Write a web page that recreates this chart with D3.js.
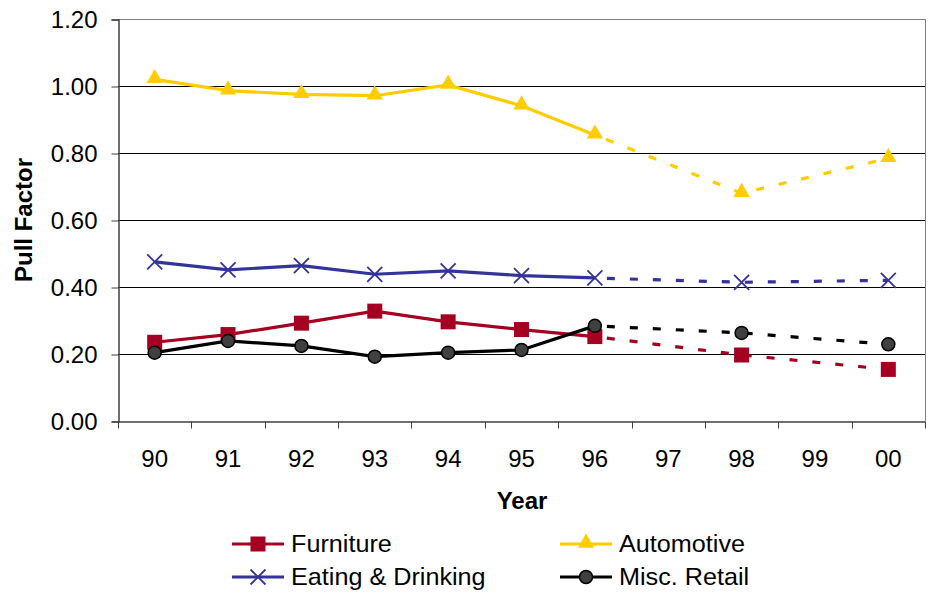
<!DOCTYPE html>
<html>
<head>
<meta charset="utf-8">
<script src="https://cdn.jsdelivr.net/npm/d3@7"></script>
<style>
  body { margin: 0; background: #fff; }
  text { font-family: "Liberation Sans", Arial, sans-serif; }
</style>
</head>
<body>
<svg id="chart" width="929" height="593"></svg>
<script>
// years on the category axis
var years = ["90","91","92","93","94","95","96","97","98","99","00"];
var yTicks = [0, 0.2, 0.4, 0.6, 0.8, 1.0, 1.2];

// pull factor values, null where no data
var furniture  = [0.235, 0.258, 0.292, 0.328, 0.296, 0.273, 0.252, null, 0.197, null, 0.154];
var automotive = [1.020, 0.986, 0.975, 0.971, 1.003, 0.941, 0.854, null, 0.680, null, 0.784];
var eating     = [0.475, 0.451, 0.464, 0.438, 0.448, 0.434, 0.427, null, 0.414, null, 0.420];
var misc       = [0.204, 0.239, 0.224, 0.192, 0.204, 0.212, 0.284, null, 0.263, null, 0.229];

var series = [
    {name: "Furniture", values: furniture, color: "#A50021", marker: "square"},
    {name: "Automotive", values: automotive, color: "#FFCC00", marker: "triangle"},
    {name: "Eating & Drinking", values: eating, color: "#333399", marker: "cross"},
    {name: "Misc. Retail", values: misc, color: "#000000", marker: "circle"}
];
// draw order: back to front as in the picture
var drawOrder = [1, 2, 0, 3];

var svg = d3.select("#chart");
var m = {left: 118, right: 4, top: 19, bottom: 172};
var W = 929, H = 593;
var FONT = "Liberation Sans, Arial, sans-serif";

var x = d3.scaleBand().domain(years).range([m.left, W - m.right]).paddingInner(0).paddingOuter(0);
var y = d3.scaleLinear().domain([0, 1.2]).range([H - m.bottom, m.top]);
var cx = function(i){ return x(years[i]) + x.bandwidth() / 2; };

// gridlines
svg.append("g").selectAll("line")
    .data(yTicks.filter(function(d){ return d > 0; }))
    .enter().append("line")
        .attr("x1", m.left).attr("x2", W - m.right)
        .attr("y1", function(d){ return Math.round(y(d)) + 0.5; })
        .attr("y2", function(d){ return Math.round(y(d)) + 0.5; })
        .attr("stroke", function(d){ return d == 1.2 ? "#808080" : "#000"; })
        .attr("stroke-width", 1);

// right border of plot area
svg.append("line")
    .attr("x1", W - m.right + 0.5).attr("x2", W - m.right + 0.5)
    .attr("y1", y(1.2)).attr("y2", y(0))
    .attr("stroke", "#808080").attr("stroke-width", 1);

// y axis
var yAxis = svg.append("g")
    .attr("transform", "translate(" + (m.left + 0.5) + ",0.5)")
    .call(d3.axisLeft(y).tickValues(yTicks).tickFormat(d3.format(".2f")).tickSize(7).tickPadding(14));
yAxis.select(".domain").attr("stroke", "#404040").attr("stroke-width", 1.5);
yAxis.selectAll(".tick line").attr("stroke", "#404040");
yAxis.selectAll(".tick text").attr("font-size", 24).attr("fill", "#000").attr("font-family", FONT);

// x axis: labels centred, ticks on the band edges
var xAxis = svg.append("g")
    .attr("transform", "translate(0," + (y(0) + 0.5) + ")")
    .call(d3.axisBottom(x).tickSize(0));
xAxis.select(".domain").attr("stroke", "#404040").attr("stroke-width", 1.5);
xAxis.selectAll(".tick text").attr("font-size", 24).attr("fill", "#000").attr("font-family", FONT)
    .attr("y", 45.5).attr("dy", null);
xAxis.selectAll(".edge").data(years.concat(["end"])).enter().append("line")
    .attr("class", "edge")
    .attr("x1", function(d, i){ return Math.round(m.left + i * x.bandwidth()) + 0.5; })
    .attr("x2", function(d, i){ return Math.round(m.left + i * x.bandwidth()) + 0.5; })
    .attr("y1", 0).attr("y2", 7)
    .attr("stroke", "#404040");

// axis titles
svg.append("text")
    .attr("x", 522).attr("y", 509)
    .attr("text-anchor", "middle").attr("font-size", 24).attr("font-weight", "bold")
    .text("Year");
svg.append("text")
    .attr("transform", "translate(32," + ((y(0) + y(1.2)) / 2) + ") rotate(-90)")
    .attr("text-anchor", "middle").attr("font-size", 24).attr("font-weight", "bold")
    .text("Pull Factor");

function drawMarker(g, type, color, px, py){
    if( type == "square" ){
        g.append("rect").attr("x", px - 7.5).attr("y", py - 7.5).attr("width", 15).attr("height", 15)
            .attr("fill", color);
    }
    else if( type == "triangle" ){
        g.append("path").attr("d", d3.symbol().type(d3.symbolTriangle).size(115)())
            .attr("transform", "translate(" + px + "," + (py - 1) + ")")
            .attr("fill", color);
    }
    else if( type == "cross" ){
        g.append("path")
            .attr("d", "M" + (px - 7.5) + "," + (py - 7.5) + "L" + (px + 7.5) + "," + (py + 7.5) +
                       "M" + (px - 7.5) + "," + (py + 7.5) + "L" + (px + 7.5) + "," + (py - 7.5))
            .attr("stroke", color).attr("stroke-width", 1.8).attr("fill", "none");
    }
    else{
        g.append("circle").attr("cx", px).attr("cy", py).attr("r", 6.5)
            .attr("fill", "#404040").attr("stroke", "#000").attr("stroke-width", 1.5);
    }
}

var line = d3.line()
    .x(function(d){ return cx(d.i); })
    .y(function(d){ return y(d.v); });

drawOrder.forEach(function(k){
    var s = series[k];
    var pts = s.values.map(function(v, i){ return {i: i, v: v}; })
                      .filter(function(d){ return d.v !== null; });
    var solid = pts.filter(function(d){ return d.i <= 6; });
    var dashed = pts.filter(function(d){ return d.i >= 6; });
    var g = svg.append("g");
    g.append("path").datum(solid).attr("d", line)
        .attr("fill", "none").attr("stroke", s.color).attr("stroke-width", 3.2);
    g.append("path").datum(dashed).attr("d", line)
        .attr("fill", "none").attr("stroke", s.color).attr("stroke-width", 3.2)
        .attr("stroke-dasharray", "8,15").attr("stroke-dashoffset", -12);
    pts.forEach(function(d){ drawMarker(g, s.marker, s.color, cx(d.i), y(d.v)); });
});

// legend (2 x 2)
var legendPos = [[232, 544], [560, 544], [232, 577], [560, 577]];
series.forEach(function(s, k){
    var p = legendPos[k];
    var g = svg.append("g");
    g.append("line").attr("x1", p[0]).attr("x2", p[0] + 52).attr("y1", p[1]).attr("y2", p[1])
        .attr("stroke", s.color).attr("stroke-width", 3);
    drawMarker(g, s.marker, s.color, p[0] + 26, p[1]);
    g.append("text")
        .attr("transform", "translate(" + (p[0] + 59) + "," + (p[1] + 8.3) + ") scale(1.05,1)")
        .attr("font-size", 24).text(s.name);
});
</script>
</body>
</html>
